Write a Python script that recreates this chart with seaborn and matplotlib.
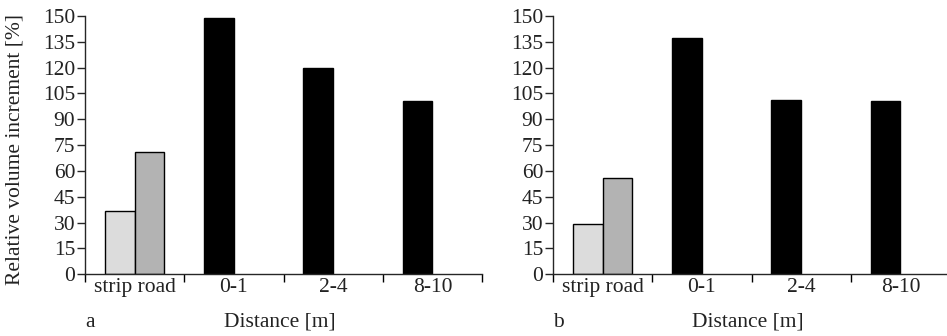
import numpy as np
import pandas as pd
import seaborn as sns
import matplotlib.pyplot as plt

# Categories on the x axis
categories = ["strip road", "0-1", "2-4", "8-10"]

# First bar of each group (light grey for strip road, black for the distances)
panel_a_first = [37, 149, 120, 100.5]
panel_b_first = [29, 137, 101.5, 100.5]
# Second bar, only the strip road group has one
panel_a_second = [71, np.nan, np.nan, np.nan]
panel_b_second = [56, np.nan, np.nan, np.nan]

panel_letters = ["a", "b"]
y_ticks = list(range(0, 151, 15))

first_colors = ["#dcdcdc", "black", "black", "black"]
second_color = "#b3b3b3"
text_color = "#222222"
fs = 15.5

sns.set_theme(style="ticks")
plt.rcParams["font.family"] = ["Liberation Serif", "DejaVu Serif"]
plt.rcParams["axes.linewidth"] = 1.0

fig = plt.figure(figsize=(9.47, 3.36), dpi=100)
ax_a = fig.add_axes([85 / 947, 61.7 / 336, 397 / 947, 258.3 / 336])
ax_b = fig.add_axes([553 / 947, 61.7 / 336, 397 / 947, 258.3 / 336])


def make_df(first, second):
    return pd.DataFrame({
        "category": categories * 2,
        "slot": ["first"] * len(categories) + ["second"] * len(categories),
        "value": list(first) + list(second),
    })


panels = [
    (ax_a, make_df(panel_a_first, panel_a_second)),
    (ax_b, make_df(panel_b_first, panel_b_second)),
]

for i, (ax, df) in enumerate(panels):
    sns.barplot(
        data=df, x="category", y="value", hue="slot", order=categories,
        hue_order=["first", "second"], width=0.6, dodge=True,
        edgecolor="black", linewidth=1.0, legend=False, ax=ax,
    )
    # Recolor bars: first slot per category, second slot grey
    for bar, c in zip(ax.containers[0], first_colors):
        bar.set_facecolor(c)
    for bar in ax.containers[1]:
        bar.set_facecolor(second_color)

    ax.set_ylim(0, 150)
    ax.set_xlim(-0.5, 3.5)
    ax.set_yticks(y_ticks)
    ax.set_xticks(range(len(categories)))
    ax.set_xticklabels(categories)
    ax.set_xticks([-0.5, 0.5, 1.5, 2.5, 3.5], minor=True)
    ax.tick_params(axis="x", which="major", length=0, pad=3, labelsize=fs, labelcolor=text_color)
    ax.tick_params(axis="x", which="minor", length=6, width=1, direction="out", color="black")
    ax.tick_params(axis="y", length=6, width=1, pad=1, labelsize=fs, labelcolor=text_color)
    sns.despine(ax=ax)
    ax.spines["bottom"].set_clip_on(False)

    # Axis title and panel letter share one baseline below the tick labels
    ax.set_xlabel("Distance [m]", fontsize=fs, color=text_color)
    ax.xaxis.set_label_coords(0.49, -0.204)
    ax.xaxis.label.set_va("baseline")
    ax.set_ylabel("")
    ax.text(0.0, -0.204, panel_letters[i], transform=ax.transAxes, fontsize=fs,
            color=text_color, ha="left", va="baseline")

ax_a.set_ylabel("Relative volume increment [%]", fontsize=fs, color=text_color)
ax_a.yaxis.set_label_coords(-0.176, 0.485)
ax_a.yaxis.label.set_va("center")

fig.savefig("out.png", dpi=100)
